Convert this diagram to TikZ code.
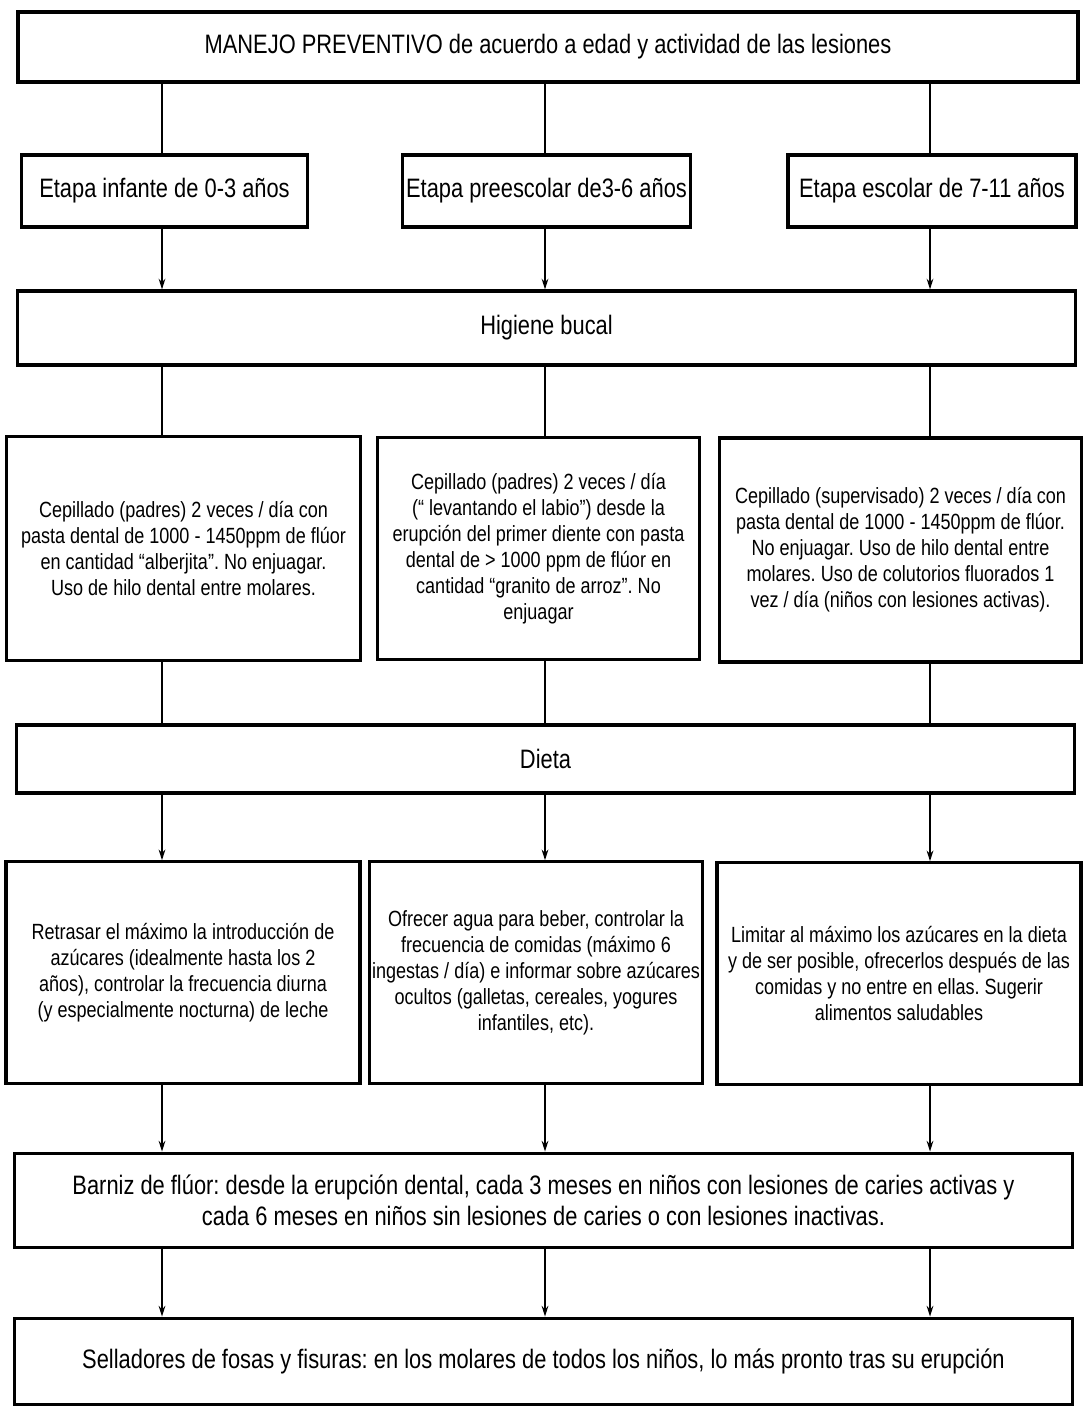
\documentclass[tikz,border=0pt]{standalone}
\usepackage{fontspec}
\setmainfont{Liberation Sans}[FakeStretch=0.82]
\usetikzlibrary{arrows.meta, positioning, calc}
\frenchspacing

\begin{document}
\begin{tikzpicture}[x=0.75pt, y=-0.75pt, >={Stealth[length=8pt, width=5pt]},
      line width=1.3pt,
      box/.style={draw, line width=2.4pt, align=center, inner sep=2pt},
      head/.style={box, font=\fontsize{20}{23}\selectfont},
      body/.style={box, font=\fontsize{16.5}{19.5}\selectfont}]
    \useasboundingbox[fill=white] (0,0) rectangle (1085,1409);
    \coordinate (c1) at (162,0);
    \coordinate (c2) at (545,0);
    \coordinate (c3) at (930,0);
    % level 1 and ages
    \node[head, minimum width=795pt, minimum height=52.5pt] (top) at (548,47)
      {MANEJO PREVENTIVO de acuerdo a edad y actividad de las lesiones};
    \node[head, minimum width=214.5pt, minimum height=54pt] (inf) at (164.5,191) {Etapa infante de 0-3 años};
    \node[head, minimum width=216.5pt, minimum height=54pt] (pre) at (546.5,191) {Etapa preescolar de3-6 años};
    \node[head, minimum width=216pt, minimum height=54pt] (esc) at (932,191) {Etapa escolar de 7-11 años};
    % higiene
    \node[head, minimum width=794pt, minimum height=55.5pt] (hig) at (546.5,328) {Higiene bucal};
    \node[body, minimum width=266pt, minimum height=168pt] (cep1) at (183.5,548.5)
      {Cepillado (padres) 2 veces / día con\\ pasta dental de 1000 - 1450ppm de flúor\\
       en cantidad “alberjita”. No enjuagar.\\ Uso de hilo dental entre molares.};
    \node[body, minimum width=242pt, minimum height=167pt] (cep2) at (538.5,548.5)
      {Cepillado (padres) 2 veces / día\\ (“ levantando el labio”) desde la\\
       erupción del primer diente con pasta\\ dental de > 1000 ppm de flúor en\\
       cantidad “granito de arroz”. No\\ enjuagar};
    \node[body, minimum width=271pt, minimum height=168pt] (cep3) at (900.5,550)
      {Cepillado (supervisado) 2 veces / día con\\ pasta dental de 1000 - 1450ppm de flúor.\\
       No enjuagar. Uso de hilo dental entre\\ molares. Uso de colutorios fluorados 1\\
       vez / día (niños con lesiones activas).};
    % dieta
    \node[head, minimum width=793pt, minimum height=51pt] (die) at (545.5,759) {Dieta};
    \node[body, minimum width=265.5pt, minimum height=166pt] (ret) at (183,972.5)
      {Retrasar el máximo la introducción de\\ azúcares (idealmente hasta los 2\\
       años), controlar la frecuencia diurna\\ (y especialmente nocturna) de leche};
    \node[body, minimum width=243pt, minimum height=166pt] (ofr) at (536,972.5)
      {Ofrecer agua para beber, controlar la\\ frecuencia de comidas (máximo 6\\
       ingestas / día) e informar sobre azúcares\\ ocultos (galletas, cereales, yogures\\
       infantiles, etc).};
    \node[body, minimum width=273pt, minimum height=166pt] (lim) at (899,973.5)
      {Limitar al máximo los azúcares en la dieta\\ y de ser posible, ofrecerlos después de las\\
       comidas y no entre en ellas. Sugerir\\ alimentos saludables};
    % fluor y selladores
    \node[head, minimum width=794pt, minimum height=71pt] (bar) at (543.5,1200.5)
      {Barniz de flúor: desde la erupción dental, cada 3 meses en niños con lesiones de caries activas y\\
       cada 6 meses en niños sin lesiones de caries o con lesiones inactivas.};
    \node[head, minimum width=794pt, minimum height=65pt] (sel) at (543.5,1361.5)
      {Selladores de fosas y fisuras: en los molares de todos los niños, lo más pronto tras su erupción};
    % connectors
    \draw (top.south -| c1)--(inf.north -| c1); \draw (top.south -| c2)--(pre.north -| c2);
    \draw (top.south -| c3)--(esc.north -| c3);
    \draw[->] (inf.south -| c1)--(hig.north -| c1); \draw[->] (pre.south -| c2)--(hig.north -| c2);
    \draw[->] (esc.south -| c3)--(hig.north -| c3);
    \draw (hig.south -| c1)--(cep1.north -| c1); \draw (hig.south -| c2)--(cep2.north -| c2);
    \draw (hig.south -| c3)--(cep3.north -| c3);
    \draw (cep1.south -| c1)--(die.north -| c1); \draw (cep2.south -| c2)--(die.north -| c2);
    \draw (cep3.south -| c3)--(die.north -| c3);
    \draw[->] (die.south -| c1)--(ret.north -| c1); \draw[->] (die.south -| c2)--(ofr.north -| c2);
    \draw[->] (die.south -| c3)--(lim.north -| c3);
    \draw[->] (ret.south -| c1)--(bar.north -| c1); \draw[->] (ofr.south -| c2)--(bar.north -| c2);
    \draw[->] (lim.south -| c3)--(bar.north -| c3);
    \draw[->] (bar.south -| c1)--(sel.north -| c1); \draw[->] (bar.south -| c2)--(sel.north -| c2);
    \draw[->] (bar.south -| c3)--(sel.north -| c3);
  \end{tikzpicture}
\end{document}
